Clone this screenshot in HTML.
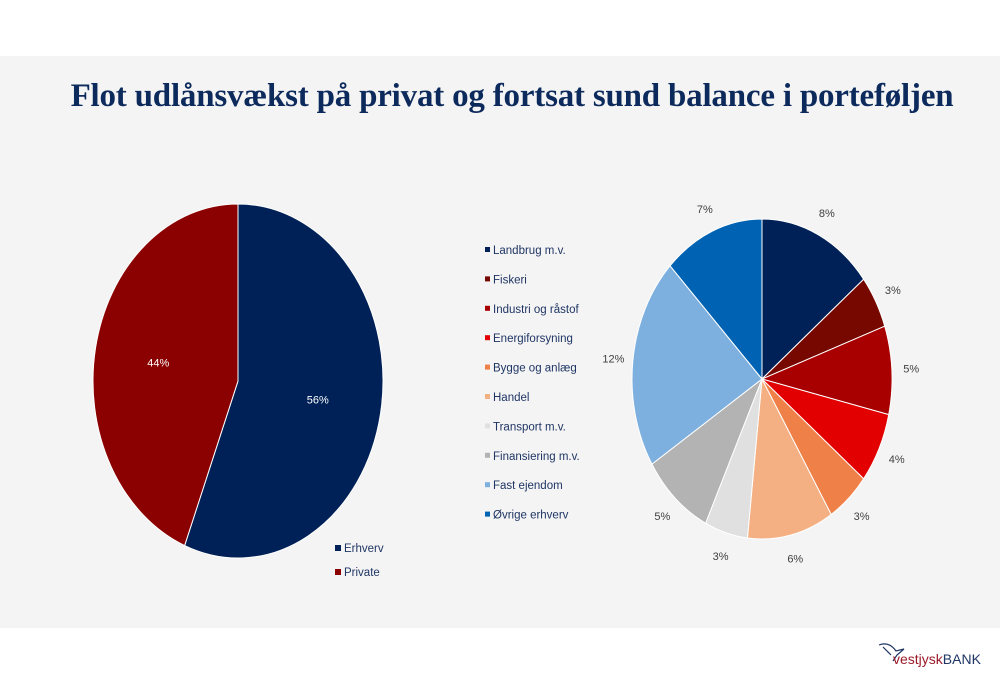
<!DOCTYPE html>
<html><head><meta charset="utf-8"><style>
body{margin:0;width:1000px;height:685px;background:#fff;font-family:"Liberation Sans",sans-serif;overflow:hidden;position:relative}
#band{position:absolute;left:0;top:56px;width:1000px;height:572px;background:#f4f4f4}
#title{position:absolute;left:0;top:78px;width:1024px;text-align:center;font-family:"Liberation Serif",serif;font-weight:bold;font-size:33px;letter-spacing:-0.2px;color:#0d2a5c}
svg{position:absolute;left:0;top:0}
</style></head><body>
<div id="band"></div>
<div id="title">Flot udlånsvækst på privat og fortsat sund balance i porteføljen</div>
<svg id="chart" width="1000" height="685"></svg>
<script>
const leftCats=["Erhverv","Private"];
const leftVals=[56,44];
const leftColors=["#002157","#8b0000"];
const rightCats=["Landbrug m.v.","Fiskeri","Industri og råstof","Energiforsyning","Bygge og anlæg","Handel","Transport m.v.","Finansiering m.v.","Fast ejendom","Øvrige erhverv"];
const rightVals=[8,3,5,4,3,6,3,5,12,7];
const rightColors=["#002157","#760800","#a80000","#e20000","#ef8048","#f4b083","#e0e0e0","#b3b3b3","#7dafdf","#0062b2"];
const NS="http://www.w3.org/2000/svg";
const svg=document.getElementById("chart");
function mk(t,a){const e=document.createElementNS(NS,t);for(const k in a)e.setAttribute(k,a[k]);svg.appendChild(e);return e;}
function pt(cx,cy,rx,ry,a){const t=a*Math.PI/180;return [cx+rx*Math.sin(t),cy-ry*Math.cos(t)];}
function arc(cx,cy,rx,ry,a0,a1){const p0=pt(cx,cy,rx,ry,a0),p1=pt(cx,cy,rx,ry,a1);const l=(a1-a0)>180?1:0;return `M${cx},${cy}L${p0[0]},${p0[1]}A${rx},${ry} 0 ${l} 1 ${p1[0]},${p1[1]}Z`;}
// left pie
(function(){const cx=238,cy=381,rx=145,ry=177;const tot=leftVals.reduce((a,b)=>a+b,0);let a=0;
leftVals.forEach((v,i)=>{const s=v/tot*360;
const p=mk("path",{d:arc(cx,cy,rx,ry,a,a+s),fill:leftColors[i],stroke:"#fff","stroke-width":1});


const m=pt(cx,cy,rx*0.56,ry*0.56,a+s/2);
const t=mk("text",{x:m[0],y:m[1]+4,"text-anchor":"middle","font-size":11,fill:"#fff"});t.textContent=Math.round(v)+"%";


a+=s;});
leftCats.forEach((c,i)=>{const y=548+i*24;
const q=mk("rect",{x:335,y:y-3,width:6,height:6,fill:leftColors[i]});


const t=mk("text",{x:344,y:y+4,"font-size":11.5,fill:"#1f3564"});t.textContent=c;

});
})();
// right pie
(function(){const cx=762,cy=379,rx=130,ry=160;const tot=rightVals.reduce((a,b)=>a+b,0);let a=0;
rightVals.forEach((v,i)=>{const s=v/tot*360;
const p=mk("path",{d:arc(cx,cy,rx,ry,a,a+s),fill:rightColors[i],stroke:"#fff","stroke-width":1});


const mid=a+s/2;const m=pt(cx,cy,rx*1.15,ry*1.15,mid);
const t=mk("text",{x:m[0],y:m[1]+4,"text-anchor":"middle","font-size":11,fill:"#404040"});t.textContent=v+"%";


a+=s;});
rightCats.forEach((c,i)=>{const y=250+i*29.4;
const q=mk("rect",{x:485,y:y-3,width:5,height:5,fill:rightColors[i]});


const t=mk("text",{x:493,y:y+4,"font-size":11.5,fill:"#1f3564"});t.textContent=c;

});
})();
// logo
(function(){
const g=mk("path",{d:"M879,645 Q889,641 896,651 L904,649 L897,655 L893,661 M883,647 L891,655",fill:"none",stroke:"#1f3564","stroke-width":1.2});


const t=mk("text",{x:893,y:664,"font-size":14,fill:"#9b1b2a"});t.innerHTML='vestjysk<tspan fill="#1f3564">BANK</tspan>';


})();
</script>
</body></html>
